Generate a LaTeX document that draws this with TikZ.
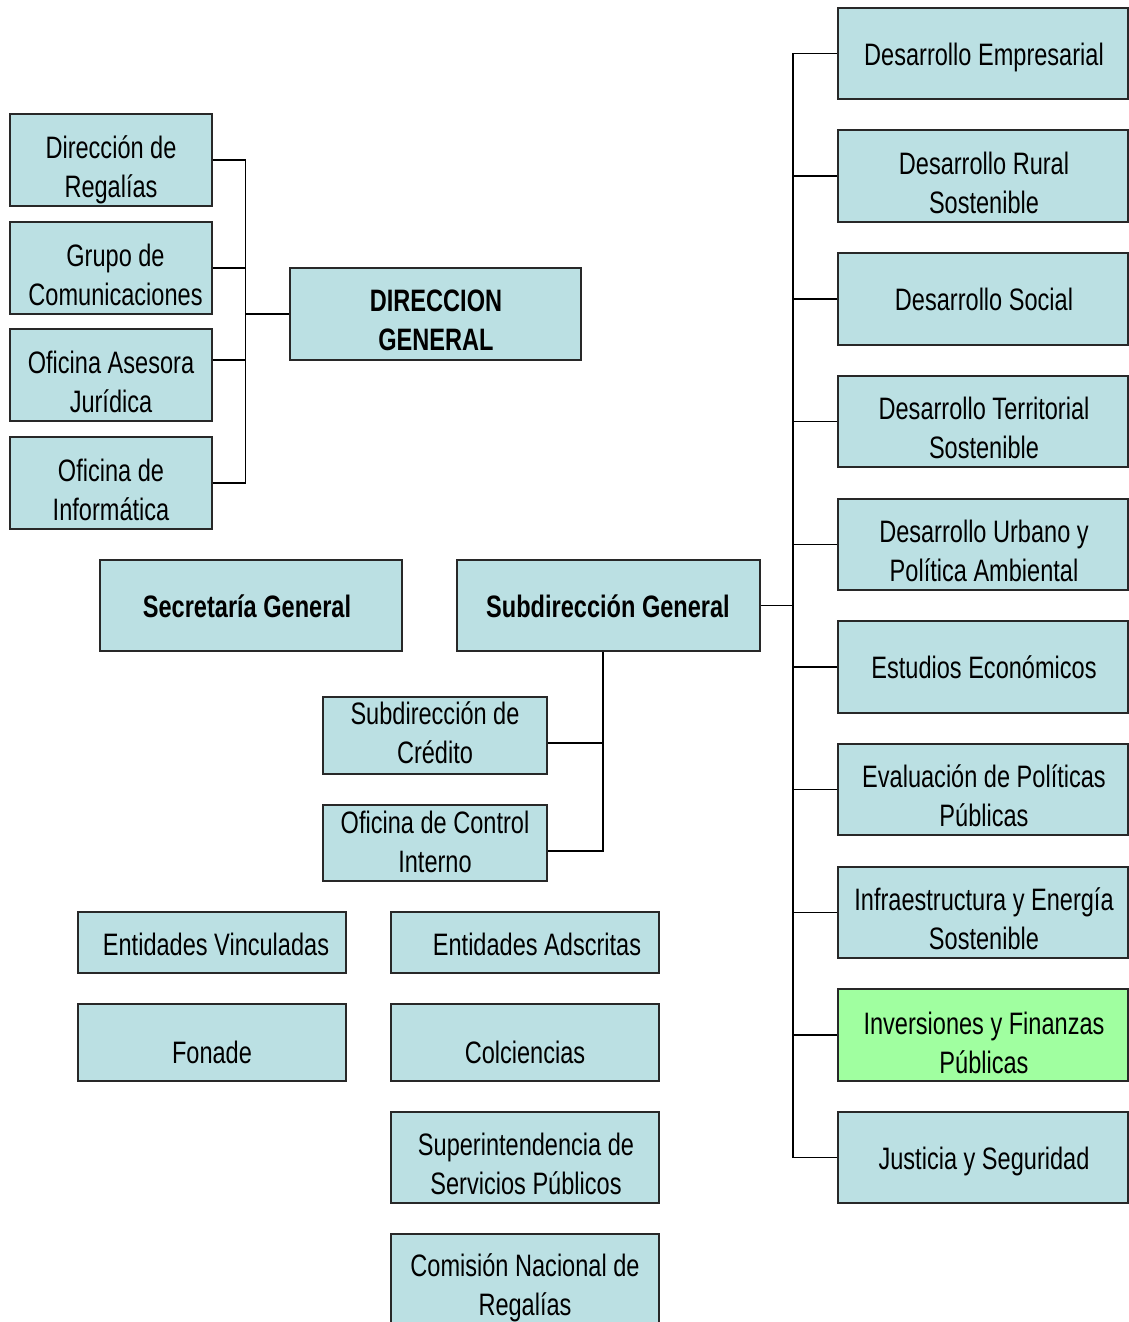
\documentclass[tikz,border=0pt]{standalone}
\usepackage{fontspec}
\setmainfont{Liberation Sans}[FakeStretch=0.76]
\usetikzlibrary{fit}
\definecolor{boxblue}{RGB}{187,224,227}
\definecolor{boxgreen}{RGB}{160,255,160}
\definecolor{boxline}{RGB}{40,40,40}
\tikzset{
  box/.style={draw=boxline, line width=1.8pt, inner sep=0pt},
  txt/.style={anchor=north, align=center, inner sep=0pt, font=\fontsize{31}{39}\selectfont},
  link/.style={draw=black, line width=1.4pt}
}
\newcommand\orgbox[6][boxblue]{\node[box, fill=#1, fit={(#3,#4) (#5,#6)}] (#2) {};}
\newcommand\orgtext[4]{\node[txt] (#1) at (#2,{#3-27.3}) {\strut #4};}
\begin{document}
\begin{tikzpicture}[x=1pt,y=-1pt]
\path[use as bounding box, clip] (0,0) rectangle (1129,1322);
\fill[white] (0,0) rectangle (1129,1322);

% left column
\orgbox{dr}{10}{114}{212}{206}
\orgtext{dr-t}{111}{158}{Dirección de\\Regalías}
\orgbox{gc}{10}{222}{212}{314}
\orgtext{gc-t}{115.5}{266}{Grupo de\\Comunicaciones}
\orgbox{oa}{10}{329}{212}{421}
\orgtext{oa-t}{111}{373}{Oficina Asesora\\Jurídica}
\orgbox{oi}{10}{437}{212}{529}
\orgtext{oi-t}{111}{481}{Oficina de\\Informática}

\orgbox{dg}{290}{268}{581}{360}
\orgtext{dg-t}{436}{311.5}{\bfseries DIRECCION\\\bfseries GENERAL}

\orgbox{sec}{100}{560}{402}{651}
\orgtext{sec-t}{247}{617}{\bfseries Secretaría General}
\orgbox{sg}{457}{560}{760}{651}
\orgtext{sg-t}{608}{617}{\bfseries Subdirección General}

\orgbox{sc}{323}{697}{547}{774}
\orgtext{sc-t}{435}{724}{Subdirección de\\Crédito}
\orgbox{oc}{323}{805}{547}{881}
\orgtext{oc-t}{435}{833}{Oficina de Control\\Interno}

\orgbox{ev}{78}{912}{346}{973}
\orgtext{ev-t}{216}{955}{Entidades Vinculadas}
\orgbox{ea}{391}{912}{659}{973}
\orgtext{ea-t}{537}{955}{Entidades Adscritas}
\orgbox{fo}{78}{1004}{346}{1081}
\orgtext{fo-t}{212}{1063}{Fonade}
\orgbox{co}{391}{1004}{659}{1081}
\orgtext{co-t}{525}{1063}{Colciencias}
\orgbox{ssp}{391}{1112}{659}{1203}
\orgtext{ssp-t}{526}{1155}{Superintendencia de\\Servicios Públicos}
\orgbox{cnr}{391}{1234}{659}{1340}
\orgtext{cnr-t}{525}{1276}{Comisión Nacional de\\Regalías}

% right column
\orgbox{r1}{838}{8}{1128}{99}
\orgtext{r1-t}{984}{65}{Desarrollo Empresarial}
\orgbox{r2}{838}{130}{1128}{222}
\orgtext{r2-t}{984}{174}{Desarrollo Rural\\Sostenible}
\orgbox{r3}{838}{253}{1128}{345}
\orgtext{r3-t}{984}{310.5}{Desarrollo Social}
\orgbox{r4}{838}{376}{1128}{467}
\orgtext{r4-t}{984}{419.5}{Desarrollo Territorial\\Sostenible}
\orgbox{r5}{838}{499}{1128}{590}
\orgtext{r5-t}{984}{542.5}{Desarrollo Urbano y\\Política Ambiental}
\orgbox{r6}{838}{621}{1128}{713}
\orgtext{r6-t}{984}{678.5}{Estudios Económicos}
\orgbox{r7}{838}{744}{1128}{835}
\orgtext{r7-t}{984}{787.5}{Evaluación de Políticas\\Públicas}
\orgbox{r8}{838}{867}{1128}{958}
\orgtext{r8-t}{984}{910.5}{Infraestructura y Energía\\Sostenible}
\orgbox[boxgreen]{r9}{838}{989}{1128}{1081}
\orgtext{r9-t}{984}{1034}{Inversiones y Finanzas\\Públicas}
\orgbox{r10}{838}{1112}{1128}{1203}
\orgtext{r10-t}{984}{1169}{Justicia y Seguridad}

% left bracket
\coordinate (lbus) at (245.5,314);
\draw[link] (dr.east) -| (lbus);
\draw[link] (oi.east) -| (lbus);
\draw[link] (gc.east) -- (gc.east -| lbus);
\draw[link] ([yshift=15pt]oa.east) -- ([yshift=15pt]oa.east -| lbus);
\draw[link] (lbus) -- (dg.west |- lbus);

% right bus
\coordinate (rbus) at (793,605.5);
\draw[link] (sg.east) -- (sg.east -| rbus);
\draw[link] (r1.west) -| (rbus);
\draw[link] (r10.west) -| (rbus);
\foreach \i in {2,...,9} {\draw[link] (r\i.west) -- (r\i.west -| rbus);}

% Subdireccion General children
\coordinate (sdrop) at ([xshift=-5.5pt]sg.south);
\draw[link] (sdrop) |- ([yshift=-8pt]oc.east);
\draw[link] ([yshift=-7.5pt]sc.east) -- ([yshift=-7.5pt]sc.east -| sdrop);
\end{tikzpicture}
\end{document}
